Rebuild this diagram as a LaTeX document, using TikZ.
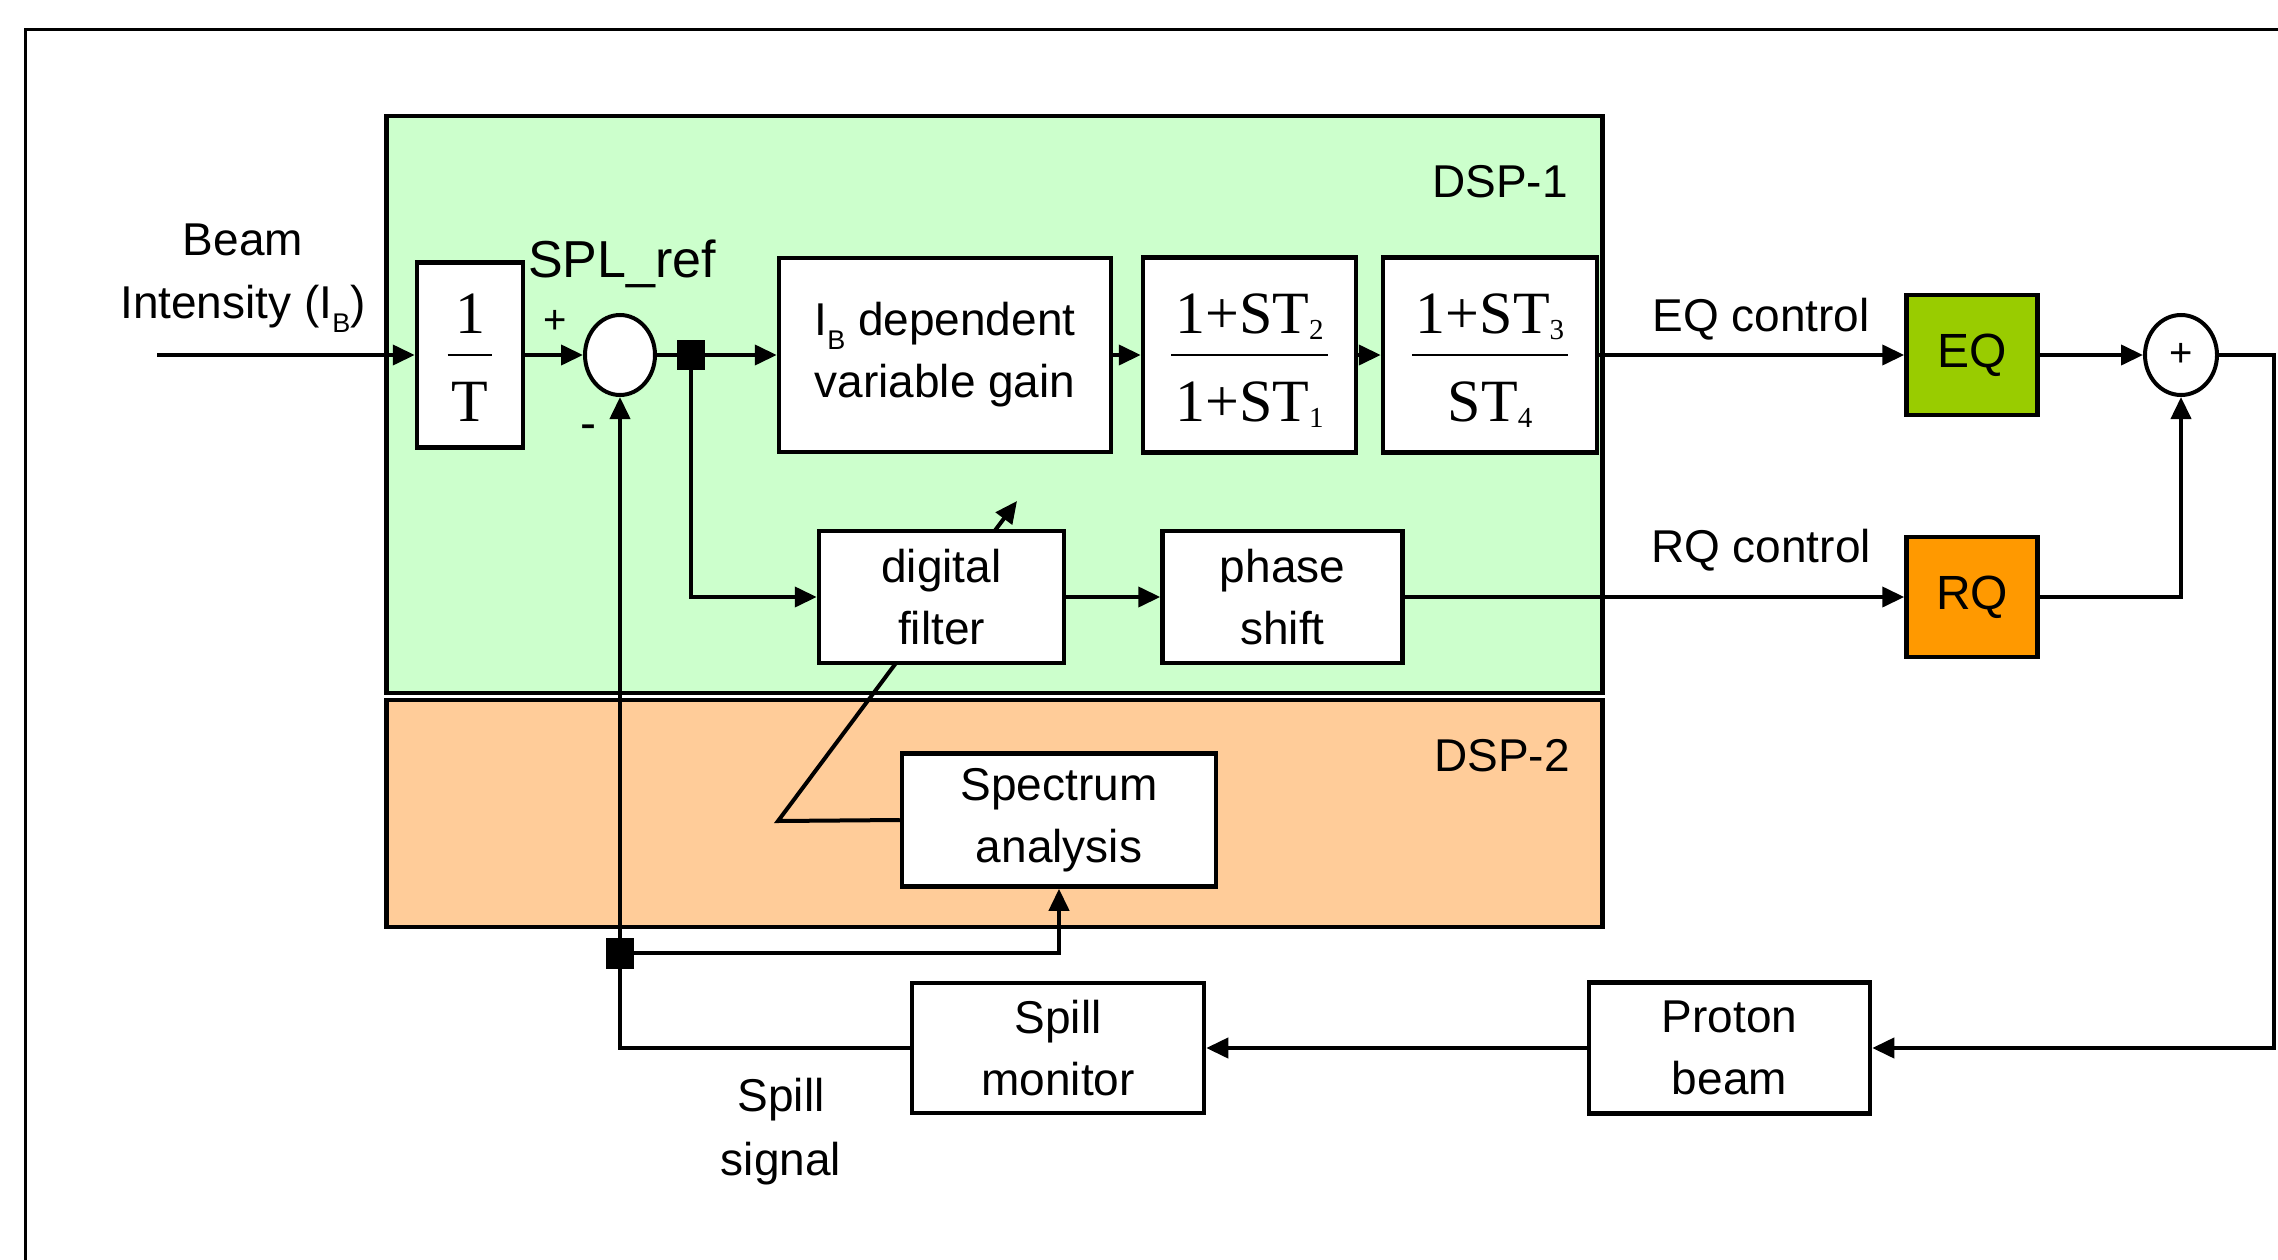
\documentclass[tikz,border=0pt]{standalone}
\usepackage{fontspec}
\setmainfont{Liberation Sans}
\newfontfamily\serifft{Liberation Serif}
\usetikzlibrary{arrows.meta,shapes.geometric}

\definecolor{dspgreen}{HTML}{CCFFCC}
\definecolor{dsporange}{HTML}{FFCC99}
\definecolor{eqgreen}{HTML}{99CC00}
\definecolor{rqorange}{HTML}{FF9900}

\pgfdeclarelayer{back}
\pgfdeclarelayer{mid}
\pgfsetlayers{back,mid,main}

% body text size
\newcommand\bodytxt{\fontsize{46}{62}\selectfont}
% lowered subscript in the sans text (I_B)
\newcommand\bsub[1]{\raisebox{-14pt}{\fontsize{27}{27}\selectfont#1}}
% small lowered index in the transfer functions
\newcommand\lowsub[1]{\raisebox{-6pt}{\fontsize{29}{29}\selectfont#1}}
% transfer function as numerator over denominator, bar centred on the box
\newcommand\ratio[2]{{\serifft\fontsize{60}{60}\selectfont
  \setlength\arrayrulewidth{2pt}\setlength\tabcolsep{4pt}%
  \begin{tabular}{c}\rule[-21pt]{0pt}{86pt}#1\\\hline\rule[-21pt]{0pt}{86pt}#2\end{tabular}}}

\begin{document}
\begin{tikzpicture}[x=1pt,y=-1pt,
  every node/.style={font=\bodytxt},
  blk/.style={draw, line width=4.5pt, fill=white, align=center, inner sep=0pt},
  lbl/.style={inner sep=0pt, align=center},
  dspbox/.style={draw, line width=4.5pt, inner sep=0pt},
  junc/.style={fill=black, inner sep=0pt, minimum width=28pt, minimum height=30pt},
  wire/.style={line width=4pt},
  arr/.style={wire, -{Triangle[length=22pt,width=20pt]}},
  sumnode/.style={ellipse, draw, line width=4pt, fill=white, inner sep=0pt,
                  minimum width=70pt, minimum height=80pt},
]
\useasboundingbox (0,0) rectangle (2278,1260);

% outer frame
\draw[line width=3pt] (2300,30) -- (25,30) -- (25,1280);

% DSP boards
\begin{pgfonlayer}{back}
  \node[dspbox, fill=dspgreen, minimum width=1216pt, minimum height=577pt] (dsp1) at (994.5,404.5) {};
  \node[dspbox, fill=dsporange, minimum width=1216pt, minimum height=227pt] (dsp2) at (994.5,813.5) {};
\end{pgfonlayer}
\node[lbl, anchor=base east] (dsp1lbl) at (1568,198) {DSP-1};
\node[lbl, anchor=base east] (dsp2lbl) at (1570,771) {DSP-2};

% blocks
\node[blk, minimum width=106pt, minimum height=185pt] (inv) at (470,355) {\ratio{1}{T}};
\node[sumnode] (sum) at (620,355) {};
\node[junc] (j1) at (691,355) {};
\node[blk, minimum width=332pt, minimum height=194pt] (gain) at (945,355) {I\bsub{B} dependent\\variable gain};
\node[blk, minimum width=213pt, minimum height=195pt] (lead) at (1249.5,355) {\ratio{1+ST\lowsub{2}}{1+ST\lowsub{1}}};
\node[blk, minimum width=214pt, minimum height=195pt] (pint) at (1490,355) {\ratio{1+ST\lowsub{3}}{ST\lowsub{4}}};
\node[blk, fill=eqgreen, minimum width=131pt, minimum height=120pt, font=\fontsize{48}{48}\selectfont] (eq) at (1972,355) {EQ};
\node[sumnode, minimum width=72pt] (plus) at (2181,355) {\fontsize{40}{40}\selectfont+};
\node[blk, fill=rqorange, minimum width=131pt, minimum height=120pt, font=\fontsize{48}{48}\selectfont] (rq) at (1972,597) {RQ};
\node[blk, minimum width=245pt, minimum height=132pt] (filt) at (941.5,597) {digital\\filter};
\node[blk, minimum width=240pt, minimum height=132pt] (phase) at (1282.5,597) {phase\\shift};
\node[blk, minimum width=314pt, minimum height=133pt] (spec) at (1059,820) {Spectrum\\analysis};
\node[junc, minimum height=31pt] (j2) at (620,953) {};
\node[blk, minimum width=292pt, minimum height=130pt] (spill) at (1058,1048) {Spill\\monitor};
\node[blk, minimum width=281pt, minimum height=131pt] (proton) at (1729.5,1048) {Proton\\beam};

% free labels
\node[lbl, anchor=base] (beam1) at (243,255) {Beam};
\node[lbl, anchor=base] (beam2) at (243,318) {Intensity (I\bsub{B})};
\node[lbl, anchor=base west, font=\fontsize{52}{52}\selectfont] (splref) at (528,277) {SPL\_ref};
\node[lbl, font=\fontsize{40}{40}\selectfont] (plussign) at (555,322) {+};
\node[lbl, font=\fontsize{48}{48}\selectfont] (minussign) at (588,432) {-};
\node[lbl, anchor=base] (eqc) at (1761,331) {EQ control};
\node[lbl, anchor=base] (rqc) at (1761,562) {RQ control};
\node[lbl, anchor=base] (sig1) at (781,1111) {Spill};
\node[lbl, anchor=base] (sig2) at (781,1175) {signal};

% free ends and bends
\coordinate (src) at (157,355);
\coordinate (cr) at (2274,355);
\coordinate (knee) at (778,821);
\coordinate (tip) at (1017,501);

% gain adjustment from the spectrum analysis (runs behind the filter block)
\begin{pgfonlayer}{mid}
  \draw[arr] (spec.west) -- (knee) -- (tip);
\end{pgfonlayer}

% signal paths
\draw[arr] (src) -- (inv.west);
\draw[arr] (inv.east) -- (sum.west);
\draw[arr] (sum.east) -- (gain.west);
\draw[arr] (gain.east) -- (lead.west);
\draw[arr] (lead.east) -- (pint.west);
\draw[arr] (pint.east) -- (eq.west);
\draw[arr] (eq.east) -- (plus.west);
\draw[arr] (plus.east) -- (cr) |- (proton.east);
\draw[arr] (proton.west) -- (spill.east);
\draw[arr] (spill.west) -| (sum.south);
\draw[arr] (j2.center) -| (spec.south);
\draw[arr] (j1.center) |- (filt.west);
\draw[arr] (filt.east) -- (phase.west);
\draw[arr] (phase.east) -- (rq.west);
\draw[arr] (rq.east) -| (plus.south);
\end{tikzpicture}
\end{document}
